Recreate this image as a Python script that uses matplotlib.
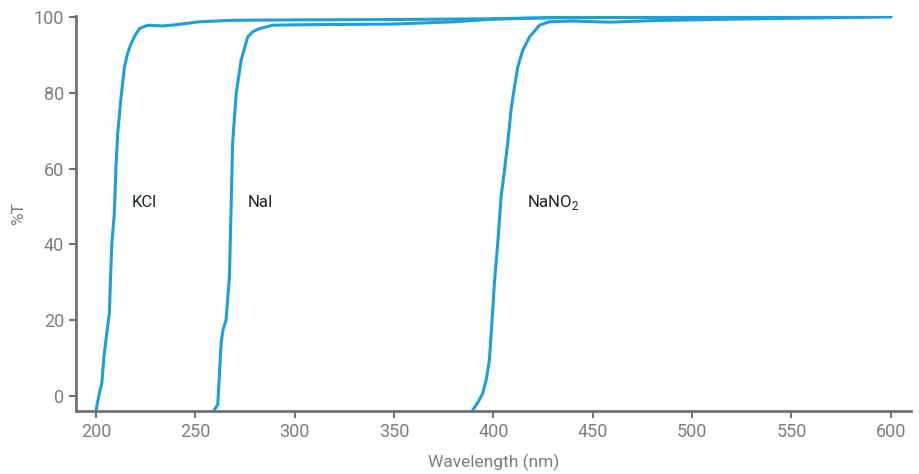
import matplotlib
matplotlib.use("Agg")
import matplotlib.pyplot as plt

# 透过率曲线
kcl_nm = [200, 201.5, 203, 204, 205.5, 206.8, 207.3, 208, 209.3, 210.1, 211, 212.7, 214.4, 216, 217.7, 220, 222, 225, 227, 230, 233.6, 240, 252, 269, 300, 350, 400, 430, 500, 600]
kcl_t = [-4, 0, 3.4, 10, 16.6, 22, 30, 40, 48.3, 60.4, 69.5, 79, 87, 90.5, 93, 95.5, 97, 97.7, 97.9, 97.8, 97.7, 98, 98.8, 99.2, 99.3, 99.4, 99.6, 99.9, 100, 100.2]
nai_nm = [259.6, 261.3, 262.2, 263, 264, 265.5, 267.2, 268, 268.8, 270.6, 273.1, 276.4, 279, 282.3, 289, 300, 350, 380, 400, 430, 500, 600]
nai_t = [-3.7, -2.4, 6, 13.9, 17.5, 20, 31.5, 49, 66.7, 79.9, 88.7, 94.8, 96.2, 97, 97.9, 98, 98.2, 98.8, 99.5, 99.9, 100, 100.2]
nano2_nm = [389.7, 392.5, 394.7, 396.5, 398, 399.7, 400.5, 402.2, 403.9, 405.6, 407.2, 408.9, 410.6, 412.3, 414.8, 418.2, 423.2, 428.2, 440, 458.4, 480, 520, 560, 600]
nano2_t = [-3.7, -1.5, 0.7, 4.5, 9.5, 22.7, 29.7, 40.3, 52.6, 59.6, 66.7, 75.5, 81.6, 86.9, 91.3, 94.8, 97.9, 98.8, 99.0, 98.7, 99.1, 99.5, 99.8, 100.1]

labels = ["KCl", "NaI", "NaNO$_2$"]
label_x = [218, 276.5, 417]

plt.rcParams['font.family'] = ['Roboto', 'DejaVu Sans']
plt.rcParams['mathtext.fontset'] = 'custom'
plt.rcParams['mathtext.rm'] = 'Roboto'
grey = "#7b7e83"
blue = "#1f9fda"

fig = plt.figure(figsize=(9.19, 4.74), dpi=100)
ax = fig.add_axes([0.0827, 0.133, 0.9083, 0.833])
for xs, ys in [(kcl_nm, kcl_t), (nai_nm, nai_t), (nano2_nm, nano2_t)]:
    ax.plot(xs, ys, color=blue, lw=2.2, solid_joinstyle="round", solid_capstyle="round")
for lab, lx in zip(labels, label_x):
    ax.text(lx, 51, lab, fontsize=12, color="#222222", va="center", ha="left")

ax.set_xlim(190, 610)
ax.set_ylim(-4, 100.3)
ax.set_xticks(range(200, 601, 50))
ax.set_yticks(range(0, 101, 20))
for s in ["top", "right"]:
    ax.spines[s].set_visible(False)
for s in ["left", "bottom"]:
    ax.spines[s].set_color("#6e7176")
    ax.spines[s].set_linewidth(2)
ax.tick_params(colors="#6e7176", labelcolor=grey, labelsize=13, length=5, width=1.5)
ax.set_xlabel("Wavelength (nm)", color=grey, fontsize=12.5, labelpad=9)
ax.set_ylabel("%T", color=grey, fontsize=12.5)
ax.yaxis.set_label_coords(-0.06, 0.5)
fig.savefig("out.png", dpi=100)
